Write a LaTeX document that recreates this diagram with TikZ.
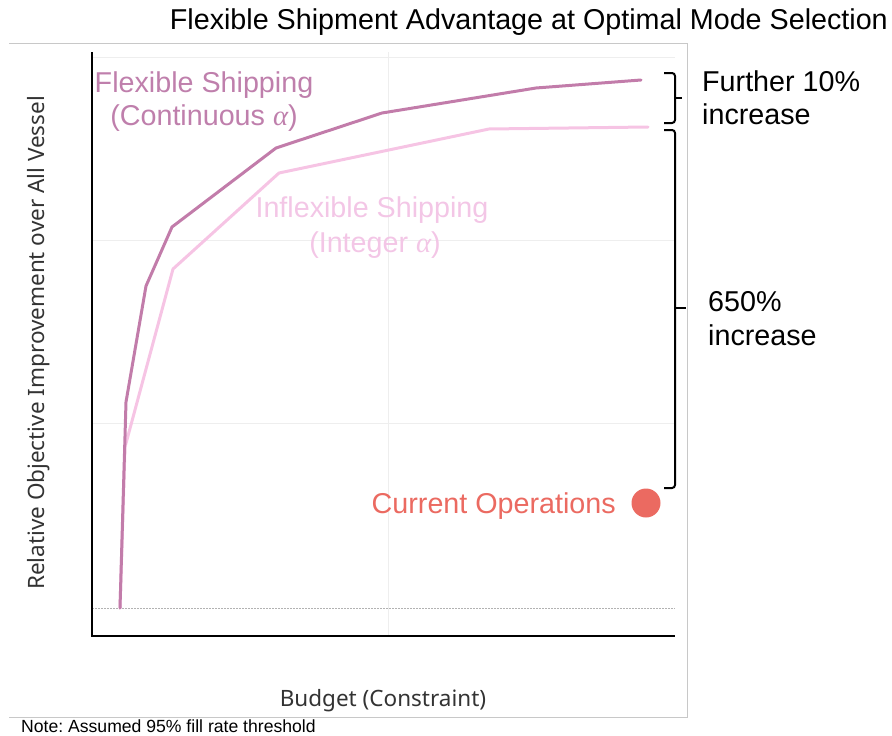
\documentclass[tikz,border=0pt]{standalone}
\usepackage{fontspec}
\setmainfont{Liberation Sans}
\newfontfamily\axisfont{Noto Sans}
\newfontfamily\greekfont{Liberation Serif}
\newcommand{\galpha}{{\greekfont\itshape α}}
\definecolor{flexcol}{HTML}{C27CAA}
\definecolor{flextxt}{HTML}{BF7FAC}
\definecolor{inflexcol}{HTML}{F6C4E4}
\definecolor{inflextxt}{HTML}{F3C6E6}
\definecolor{curcol}{HTML}{EB6A61}
\definecolor{gridcol}{HTML}{EEEEEE}
\definecolor{framecol}{HTML}{C8C8C8}
\definecolor{axistxt}{HTML}{333333}
\frenchspacing
\tikzset{
  big/.style={font=\fontsize{28.7}{33}\selectfont, inner sep=0pt},
  axislabel/.style={font=\axisfont\fontsize{22.5}{26}\selectfont, text=axistxt, inner sep=0pt},
  gridline/.style={draw=gridcol, line width=0.8pt},
  curve/.style={line width=3pt, line join=round, line cap=round},
  bracket/.style={draw=black, line width=2pt, rounded corners=3pt},
}
\begin{document}
\begin{tikzpicture}[x=1pt, y=-1pt]
\useasboundingbox (0,0) rectangle (892,736);

% outer frame (top, right, bottom)
\draw[framecol, line width=1pt] (9,43) -- (687,43) -- (687,717) -- (9,717);

% gridlines
\draw[gridline] (92,57) -- (675,57);
\draw[gridline] (92,240) -- (675,240);
\draw[gridline] (92,423) -- (675,423);
\draw[gridline] (388,52) -- (388,636);
\draw[draw=gray!60, line width=0.7pt, dash pattern=on 1.5pt off 1.5pt] (92,608) -- (675,608);

% axes
\draw[black, line width=1.6pt] (92,52) -- (92,636) -- (675,636);

% curves
\draw[curve, inflexcol] (120,608) -- (125,447) -- (173,269) -- (279,173) -- (489,129) -- (648,127);
\draw[curve, flexcol] (120,608) -- (126,402) -- (146,286) -- (172,227) -- (276,148) -- (382,113) -- (536,88) -- (641,80);

% title
\node[big, anchor=base east] (title) at (888,29) {Flexible Shipment Advantage at Optimal Mode Selection};

% series labels
\node[big, text=flextxt, anchor=base] (flex1) at (204,92) {Flexible Shipping};
\node[big, text=flextxt, anchor=base] (flex2) at (204,125) {(Continuous \galpha)};
\node[big, text=inflextxt, anchor=base] (inflex1) at (372,217) {Inflexible Shipping};
\node[big, text=inflextxt, anchor=base] (inflex2) at (375,252) {(Integer \galpha)};

% current operations marker
\node[big, text=curcol, anchor=base east] (curtxt) at (616,513) {Current Operations};
\fill[curcol] (646,503) circle (14.5);

% brackets
\draw[bracket] (664,73) -- (675,73) -- (675,123) -- (664,123);
\draw[black, line width=2pt] (675,98) -- (682,98);
\draw[bracket] (664,130) -- (675,130) -- (675,488) -- (664,488);
\draw[black, line width=2pt] (675,308) -- (686,308);

% annotations
\node[big, anchor=base west] (fur1) at (702,91) {Further 10\%};
\node[big, anchor=base west] (fur2) at (702,124) {increase};
\node[big, anchor=base west] (inc1) at (708,311) {650\%};
\node[big, anchor=base west] (inc2) at (708,345) {increase};

% axis titles
\node[axislabel, anchor=base] (xlab) at (383,706) {Budget (Constraint)};
\node[axislabel, anchor=base, rotate=90] (ylab) at (45,343) {Relative Objective Improvement over All Vessel};

% footnote
\node[font=\fontsize{17.6}{20}\selectfont, inner sep=0pt, anchor=base west] (note) at (21,732) {Note: Assumed 95\% fill rate threshold};
\end{tikzpicture}
\end{document}
